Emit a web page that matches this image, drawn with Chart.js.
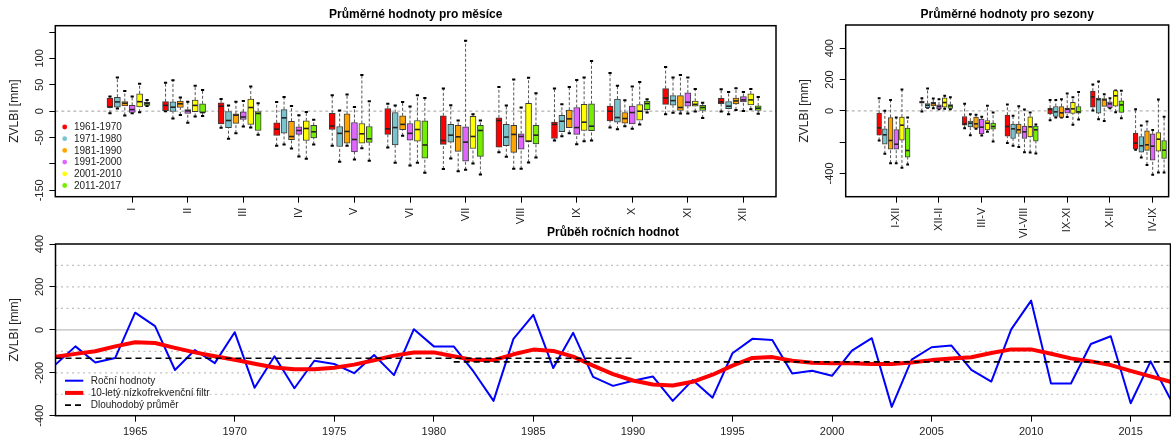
<!DOCTYPE html>
<html>
<head>
<meta charset="utf-8">
<script src="https://cdn.jsdelivr.net/npm/chart.js@4.4.1/dist/chart.umd.min.js"></script>
<style>
html,body{margin:0;padding:0;background:#fff;width:1171px;height:441px;overflow:hidden;position:relative}
canvas{position:absolute;display:block}
</style>
</head>
<body>
<canvas id="cYear" width="1171" height="219" style="left:0;top:222px;width:1171px;height:219px"></canvas>
<canvas id="cMonth" width="800" height="232" style="left:0;top:0;width:800px;height:232px"></canvas>
<canvas id="cSeason" width="381" height="245" style="left:790px;top:0;width:381px;height:245px"></canvas>
<script>
// ---------------- DATA ----------------
const decades = ['1961-1970','1971-1980','1981-1990','1991-2000','2001-2010','2011-2017'];
const decadeColors = ['#FF0000','#7AC5CD','#FFA500','#E066FF','#FFFF00','#76EE00'];
const monthLabels = ['I','II','III','IV','V','VI','VII','VIII','IX','X','XI','XII'];
const seasonLabels = ['I-XII','XII-II','III-V','VI-VIII','IX-XI','X-III','IV-IX'];

// each row: [lower whisker, Q1, median, Q3, upper whisker]  (mm)
const mon1961 = [[-4,7,8,25,28],[0,0,11,18,54],[-31.5,-24,9.5,16,23],[-65.5,-46,-34,-22,17.6],[-65.5,-34.7,-28,-3.8,30],[-68.7,-44,-33.4,5,14],[-109.6,-63,-55.5,-8.8,42.8],[-78,-68,-17.6,-12.6,46],[-55.5,-51.7,-25,-20.8,42.8],[-31,-18.3,0,9.5,72.5],[-5.7,13,25,42.8,83.8],[-0.6,14.5,17.6,24.6,41.6]];
const mon1971 = [[5,7.6,17.6,26.5,64],[-14,-0.6,7.6,17.6,58.6],[-52,-31,-17.6,-0.6,11],[-63,-41.6,-12.6,3,27],[-96,-66.8,-42,-29,1.3],[-97.7,-64,-31,-2.5,10.7],[-89.5,-58.6,-45.4,-25,11.3],[-86.3,-65.5,-49,-25,10.7],[-47.3,-39,-19,-7.6,13],[-34,-20.8,-12,23,48],[-3,11.3,20,29.6,64],[-5.7,5,9.5,18.3,36.5]];
const mon1981 = [[-8,10,15,18.3,38.4],[-7,7,14,19,26],[-41.6,-23,-7.6,-5,18],[-70.5,-54,-48,-19,10],[-65.5,-60.5,-38.4,-5,31.5],[-46.6,-35,-25,-8.8,17.6],[-114,-76,-48.5,-27,-17.6],[-109,-78,-44,-27,60],[-41.6,-31,-14.5,1.9,46],[-28.4,-22.7,-13.9,-2.5,20.8],[-4.4,1.3,7,29.6,68.7],[2.5,14,19.5,25,43.5]];
const mon1991 = [[-4,-2.5,3,11,28],[-22,-4.4,0.6,3,18],[-29,-15.8,-11,-1.3,19.5],[-85.7,-44,-36.5,-29.6,-7.6],[-91.4,-77,-53.6,-21.4,8],[-103,-54.8,-42,-23.3,8.8],[-111,-94.5,-58.6,-29.6,133.6],[-109,-71.8,-47.9,-42.8,7],[-62.4,-44,-31,7,59],[-33.4,-24,-2.5,9.5,47],[-4.4,9.5,17,34.7,64],[0.6,17.6,21.4,27.7,36.5]];
const mon2001 = [[-2,8,18,33,52],[-10,-1,11,21,48],[-31,-25,7,23,46.6],[-90,-55.5,-32.8,-18.3,-1.3],[-70,-60.5,-42.8,-23.3,68.7],[-97.7,-56.7,-34.7,-17.6,30],[-99,-70.6,-47.9,-9.5,-5.7],[-97,-58,-56.7,15,63.6],[-57,-36.5,-20.8,13,64],[-25,-17,0,12.6,55.5],[-0.6,9.5,13,19,42],[3.8,12,21.4,32.8,42]];
const mon2011 = [[10,11,14.5,17,21],[-9,-2.5,-2.5,14,40],[-44.7,-36.5,-4.4,0,15],[-63,-50.4,-39,-27,-16.4],[-94,-59,-52.3,-29,19],[-116.6,-88.8,-64,-18.3,25],[-119.7,-85.7,-36.5,-27,-17.6],[-87.6,-61.8,-45.4,-27,34],[-55.5,-37,-28.4,14,95],[-2.5,3,14.5,19,22.7],[-13,1.3,7,11.3,15.8],[-5,1.3,5.7,10,27]];

const sea1961 = [[-189,-155,-108.5,-15,81],[-4,49,55,62,81],[-110.6,-91.5,-83,-36,44.7],[-206,-162,-100,-27.7,40],[-59.6,-19,8.5,17,70],[2,23,89,125.5,168],[-249,-245,-206,-142.5,10.6]];
const sea1971 = [[-274,-213,-153,-115,0],[20,21,36,47,142.5],[-155,-102,-78.7,-66,-21],[-223,-176.6,-115,-85,-32],[-42.5,-36,-6.4,27.7,70],[-53,-15,72,81,187],[-298,-264,-223,-164,-93.6]];
const sea1981 = [[-334,-245,-189,-42.5,70],[17,32,47,55,79],[-115,-110.6,-83,-40,-25.5],[-230,-144.7,-121,-85,30],[-42.5,-42.5,-12.8,27.7,74.5],[-64,27.7,70,79,106],[-345,-253,-217,-127.7,-68]];
const sea1991 = [[-334,-245,-213,-119,-42.5],[10.6,12.8,27.7,38,74.5],[-157,-147,-104,-53,-38],[-264,-176.6,-134,-98,8.5],[-40,-15,10.6,17,110.6],[17,21,44.7,57,81],[-408.5,-315,-225.5,-147,-123]];
const sea2001 = [[-364,-187,-91.5,-40,136],[12.8,23,53,83,96],[-134,-121,-78.7,-61.7,32],[-266,-166,-102,-38,-10.6],[-89.4,-17,12.8,55,87],[-8.5,30,96,130,130],[-393.6,-257.4,-181,-138,72]];
const sea2011 = [[-342.5,-296,-253,-110.6,-42.5],[10.6,15,32,40,87],[-196,-117,-100,-78.7,-10.6],[-272,-193.6,-121,-98,-87],[-55,-15,-6.4,27.7,121],[-47,-10.6,38,64,127.7],[-393.6,-304,-251,-189,-38]];

const monthSeries = [mon1961, mon1971, mon1981, mon1991, mon2001, mon2011];
const seasonSeries = [sea1961, sea1971, sea1981, sea1991, sea2001, sea2011];

const monthTicksY = [-150,-100,-50,0,50,100,150];
const monthTickLabelsY = ['-150','','-50','0','50','100',''];
const seasonTicksY = [-400,-200,0,200,400];
const seasonTickLabelsY = ['-400','','0','200','400'];

const years = [1961,1962,1963,1964,1965,1966,1967,1968,1969,1970,1971,1972,1973,1974,1975,1976,1977,1978,1979,1980,1981,1982,1983,1984,1985,1986,1987,1988,1989,1990,1991,1992,1993,1994,1995,1996,1997,1998,1999,2000,2001,2002,2003,2004,2005,2006,2007,2008,2009,2010,2011,2012,2013,2014,2015,2016,2017];
const annualValues = [-162,-77,-152,-131,80,17,-187,-94,-155,-11,-270,-123,-272,-144,-159,-202,-117,-211,3,-77,-77,-195,-331,-42,70,-178,-14,-219,-261,-237,-217,-331,-234,-316,-109,-42,-47,-203,-191,-214,-97,-39,-359,-139,-81,-73,-186,-241,2,136,-250,-250,-66,-30,-342,-147,-323];
const filteredValues = [-125,-112,-100,-77,-58,-61,-84,-105,-123,-139,-158,-175,-184,-184,-177,-162,-142,-120,-106,-105,-123,-141,-141,-114,-92,-98,-125,-167,-206,-236,-255,-259,-242,-209,-167,-131,-127,-144,-153,-156,-156,-159,-159,-152,-141,-133,-128,-108,-91,-91,-111,-133,-147,-164,-191,-217,-242];
const meanStart = [1961, 1981];
const meanEnd = [1990, 2017];
const meanValues = [-132, -149];
const yearTicks = [1965,1970,1975,1980,1985,1990,1995,2000,2005,2010,2015];
const annualTicksY = [-400,-200,0,200,400];
const annualGridY = [-300,-200,-100,100,200,300];

// ---------------- SETUP ----------------
Chart.defaults.font.family = "'Liberation Sans', Arial, Helvetica, sans-serif";
Chart.defaults.color = '#000';
const GROUP = 7.5;   // x units per month/season group (1 unit = one box)

const framePlugin = {
  id: 'frame',
  afterDraw(chart) {
    const {ctx, chartArea: a} = chart;
    ctx.save();
    ctx.strokeStyle = '#000'; ctx.lineWidth = 1.5;
    ctx.strokeRect(a.left, a.top, a.right - a.left, a.bottom - a.top);
    ctx.restore();
  }
};

const hLinesPlugin = {
  id: 'hLines',
  beforeDatasetsDraw(chart, args, opts) {
    const {ctx, chartArea: a, scales: {y}} = chart;
    ctx.save();
    (opts.lines || []).forEach(l => {
      const py = y.getPixelForValue(l.value);
      ctx.strokeStyle = l.color; ctx.lineWidth = l.width; ctx.setLineDash(l.dash || []);
      ctx.beginPath(); ctx.moveTo(a.left, py); ctx.lineTo(a.right, py); ctx.stroke();
    });
    ctx.restore();
  }
};

const boxPartsPlugin = {
  id: 'boxParts',
  beforeDatasetsDraw(chart, args, opts) {
    const {ctx, scales: {y}} = chart;
    ctx.save();
    chart.data.datasets.forEach((ds, k) => {
      const meta = chart.getDatasetMeta(k);
      ds.stats.forEach((s, i) => {
        const px = meta.data[i].x;
        ctx.strokeStyle = '#555'; ctx.lineWidth = 1; ctx.setLineDash([3, 2]);
        ctx.beginPath();
        ctx.moveTo(px, y.getPixelForValue(s[0])); ctx.lineTo(px, y.getPixelForValue(s[1]));
        ctx.moveTo(px, y.getPixelForValue(s[3])); ctx.lineTo(px, y.getPixelForValue(s[4]));
        ctx.stroke();
        ctx.setLineDash([]); ctx.strokeStyle = '#000'; ctx.lineWidth = 2;
        ctx.beginPath();
        [s[0], s[4]].forEach(v => {
          const py = y.getPixelForValue(v);
          ctx.moveTo(px - opts.cap, py); ctx.lineTo(px + opts.cap, py);
        });
        ctx.stroke();
      });
    });
    ctx.restore();
  },
  afterDatasetsDraw(chart) {
    const {ctx, scales: {y}} = chart;
    ctx.save();
    ctx.strokeStyle = '#222'; ctx.lineWidth = 1.6;
    chart.data.datasets.forEach((ds, k) => {
      const meta = chart.getDatasetMeta(k);
      ds.stats.forEach((s, i) => {
        const el = meta.data[i];
        const py = y.getPixelForValue(s[2]);
        ctx.beginPath(); ctx.moveTo(el.x - el.width / 2 + 0.5, py); ctx.lineTo(el.x + el.width / 2 - 0.5, py); ctx.stroke();
      });
    });
    ctx.restore();
  }
};

const dotLegendPlugin = {
  id: 'dotLegend',
  afterDraw(chart, args, opts) {
    if (!opts.show) return;
    const {ctx} = chart;
    ctx.save();
    ctx.font = "10px 'Liberation Sans', Arial, sans-serif";
    ctx.textBaseline = 'middle'; ctx.textAlign = 'left';
    chart.data.datasets.forEach((ds, k) => {
      const yy = opts.y0 + k * opts.dy;
      ctx.fillStyle = ds.backgroundColor;
      ctx.beginPath(); ctx.arc(opts.x, yy, opts.r, 0, Math.PI * 2); ctx.fill();
      ctx.fillStyle = '#222';
      ctx.fillText(ds.label, opts.textX, yy + 0.5);
    });
    ctx.restore();
  }
};

const lineLegendPlugin = {
  id: 'lineLegend',
  afterDraw(chart, args, opts) {
    const {ctx} = chart;
    ctx.save();
    ctx.font = "10px 'Liberation Sans', Arial, sans-serif";
    ctx.textBaseline = 'middle'; ctx.textAlign = 'left';
    let row = 0;
    chart.data.datasets.forEach(ds => {
      if (ds.hideInLegend) return;
      const yy = opts.y0 + row * opts.dy;
      ctx.strokeStyle = ds.borderColor; ctx.lineWidth = ds.borderWidth;
      ctx.setLineDash(ds.borderDash || []);
      ctx.beginPath(); ctx.moveTo(opts.x0, yy); ctx.lineTo(opts.x1, yy); ctx.stroke();
      ctx.setLineDash([]);
      ctx.fillStyle = '#222';
      ctx.fillText(ds.label, opts.textX, yy + 0.5);
      row++;
    });
    ctx.restore();
  }
};

function yAxis(min, max, tickVals, tickLabels, width) {
  return {
    type: 'linear', min, max,
    afterBuildTicks: s => { s.ticks = tickVals.map(v => ({value: v})); },
    afterFit: s => { s.width = width; },
    ticks: { autoSkip: false, minRotation: 90, maxRotation: 90, crossAlign: 'center', padding: -1.2,
      font: {size: 11}, color: '#222', callback: (v, i) => tickLabels[i] },
    grid: { display: true, drawOnChartArea: false, drawTicks: true, tickLength: 6, tickColor: '#000', tickWidth: 1 },
    border: { display: false },
    title: { display: true, text: 'ZVLBI [mm]', font: {size: 12}, color: '#222', padding: {top: 7.8, bottom: 0} }
  };
}

function boxXAxis(min, max, labels, height) {
  return {
    type: 'linear', min, max, offset: false,
    afterBuildTicks: s => { s.ticks = labels.map((_, i) => ({value: i * GROUP + 3})); },
    afterFit: s => { s.height = height; },
    ticks: { autoSkip: false, minRotation: 90, maxRotation: 90, padding: 5, font: {size: 11}, color: '#222',
      callback: (v, i) => labels[i] },
    grid: { display: true, drawOnChartArea: false, drawTicks: true, tickLength: 6, tickColor: '#000', offset: false },
    border: { display: false }
  };
}

function boxDatasets(series, barW) {
  return series.map((stats, j) => ({
    label: decades[j],
    data: stats.map((s, i) => ({x: i * GROUP + j, y: [s[1], s[3]]})),
    stats,
    backgroundColor: decadeColors[j],
    borderColor: '#3c3c3c', borderWidth: 1, borderSkipped: false,
    barThickness: barW, grouped: false
  }));
}

function titleOpts(text, pt, pb) {
  return { display: true, text, fullSize: false, color: '#000',
    font: {size: 12, weight: 'bold'}, padding: {top: pt, bottom: pb} };
}

const zeroDotted = [{value: 0, color: '#C0C0C0', width: 1.5, dash: [3, 3]}];

// ---------------- MONTHS ----------------
new Chart(document.getElementById('cMonth'), {
  type: 'bar',
  data: { datasets: boxDatasets(monthSeries, 6) },
  options: {
    responsive: false, devicePixelRatio: 1, animation: false,
    layout: { padding: {left: 0, top: 0, right: 24, bottom: 0} },
    scales: {
      x: boxXAxis(-7.38, 89.9, monthLabels, 35.3),
      y: yAxis(-162, 162, monthTicksY, monthTickLabelsY, 55.3)
    },
    plugins: {
      legend: {display: false}, tooltip: {enabled: false},
      title: titleOpts('Průměrné hodnoty pro měsíce', 7, 4.3),
      hLines: {lines: zeroDotted},
      boxParts: {cap: 1.6},
      dotLegend: {show: true, x: 64.7, y0: 127, dy: 11.7, r: 2.4, textX: 74}
    }
  },
  plugins: [hLinesPlugin, boxPartsPlugin, framePlugin, dotLegendPlugin]
});

// ---------------- SEASONS ----------------
new Chart(document.getElementById('cSeason'), {
  type: 'bar',
  data: { datasets: boxDatasets(seasonSeries, 4.8) },
  options: {
    responsive: false, devicePixelRatio: 1, animation: false,
    layout: { padding: {left: 0, top: 0, right: 1.7, bottom: 0} },
    scales: {
      x: boxXAxis(-5.87, 50.8, seasonLabels, 48.3),
      y: yAxis(-548, 548, seasonTicksY, seasonTickLabelsY, 55.7)
    },
    plugins: {
      legend: {display: false}, tooltip: {enabled: false},
      title: titleOpts('Průměrné hodnoty pro sezony', 7, 3.6),
      hLines: {lines: zeroDotted},
      boxParts: {cap: 1.4}
    }
  },
  plugins: [hLinesPlugin, boxPartsPlugin, framePlugin]
});

// ---------------- YEARS ----------------
const gridLines = annualGridY.map(v => ({value: v, color: '#BEBEBE', width: 1.2, dash: [2, 3.5]}))
  .concat([{value: 0, color: '#BEBEBE', width: 1.2, dash: []}]);

new Chart(document.getElementById('cYear'), {
  type: 'line',
  data: {
    datasets: [
      { label: 'Roční hodnoty', data: years.map((yr, i) => ({x: yr, y: annualValues[i]})),
        borderColor: '#0000FF', borderWidth: 2, pointRadius: 0, tension: 0, order: 2, borderJoinStyle: 'round' },
      { label: '10-letý nízkofrekvenční filtr', data: years.map((yr, i) => ({x: yr, y: filteredValues[i]})),
        borderColor: '#FF0000', borderWidth: 4, pointRadius: 0, tension: 0, order: 1, borderJoinStyle: 'round', borderCapStyle: 'round' },
      { label: 'Dlouhodobý průměr', data: [{x: meanStart[0], y: meanValues[0]}, {x: meanEnd[0], y: meanValues[0]}],
        borderColor: '#000', borderWidth: 1.6, borderDash: [6, 4], pointRadius: 0, order: 0 },
      { label: 'Dlouhodobý průměr', hideInLegend: true, data: [{x: meanStart[1], y: meanValues[1]}, {x: meanEnd[1], y: meanValues[1]}],
        borderColor: '#000', borderWidth: 1.6, borderDash: [6, 4], pointRadius: 0, order: 0 }
    ]
  },
  options: {
    responsive: false, devicePixelRatio: 1, animation: false,
    layout: { padding: {left: 0, top: 0, right: 0.5, bottom: 0} },
    scales: {
      x: {
        type: 'linear', min: 1961, max: 2017,
        afterBuildTicks: s => { s.ticks = yearTicks.map(v => ({value: v})); },
        afterFit: s => { s.height = 25.3; },
        ticks: { autoSkip: false, maxRotation: 0, padding: 4, font: {size: 11}, color: '#222', callback: v => String(v) },
        grid: { display: true, drawOnChartArea: false, drawTicks: true, tickLength: 6, tickColor: '#000' },
        border: { display: false }
      },
      y: yAxis(-400, 400, annualTicksY, annualTicksY.map(String), 55.5)
    },
    plugins: {
      legend: {display: false}, tooltip: {enabled: false},
      title: titleOpts('Průběh ročních hodnot', 3.1, 4.5),
      hLines: {lines: gridLines},
      lineLegend: {x0: 65, x1: 83.3, textX: 90.7, y0: 158.7, dy: 12.2}
    }
  },
  plugins: [hLinesPlugin, framePlugin, lineLegendPlugin]
});
</script>
</body>
</html>
